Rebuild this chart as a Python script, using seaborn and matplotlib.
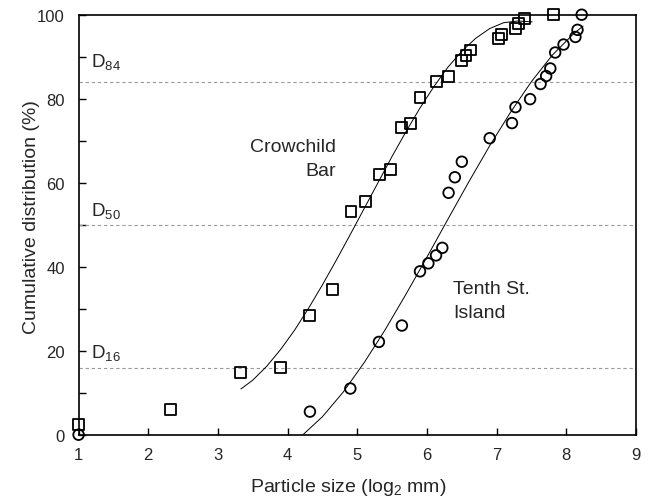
import numpy as np
import pandas as pd
import matplotlib
matplotlib.use("Agg")
import matplotlib.pyplot as plt
import seaborn as sns

# Crowchild Bar (squares)
crow_x = [1.0, 2.32, 3.32, 3.90, 4.32, 4.64, 4.91, 5.12, 5.32, 5.48, 5.64, 5.77,
          5.90, 6.13, 6.31, 6.49, 6.56, 6.63, 7.02, 7.07, 7.27, 7.31, 7.40, 7.81]
crow_y = [2.4, 6.1, 14.9, 16.0, 28.3, 34.6, 53.2, 55.6, 61.9, 63.1, 73.1, 74.2,
          80.4, 84.2, 85.3, 89.1, 90.4, 91.6, 94.3, 95.4, 96.7, 97.8, 99.2, 100.0]

# Tenth St. Island (circles)
tenth_x = [1.0, 4.32, 4.90, 5.31, 5.64, 5.90, 6.02, 6.13, 6.22, 6.31, 6.40, 6.50,
           6.90, 7.22, 7.27, 7.48, 7.63, 7.71, 7.77, 7.84, 7.96, 8.13, 8.16, 8.22]
tenth_y = [0.0, 5.5, 11.0, 22.1, 26.0, 38.9, 40.8, 42.7, 44.5, 57.6, 61.3, 65.0,
           70.6, 74.2, 78.0, 79.9, 83.5, 85.4, 87.2, 91.0, 92.9, 94.7, 96.4, 100.0]

# Fitted trend curves
crow_fit_x = [3.33, 3.5, 3.7, 3.9, 4.1, 4.3, 4.5, 4.7, 4.9, 5.1, 5.3, 5.5,
              5.7, 5.9, 6.1, 6.3, 6.5, 6.7, 6.9, 7.1, 7.3, 7.51]
crow_fit_y = [10.9, 13.0, 16.3, 20.3, 24.9, 30.1, 35.7, 41.6, 47.7, 53.9, 60.1, 66.3,
              72.2, 77.8, 82.9, 87.5, 91.3, 94.4, 96.7, 98.1, 98.5, 98.3]
tenth_fit_x = [4.22, 4.5, 4.8, 5.1, 5.4, 5.7, 6.0, 6.3, 6.6, 6.9, 7.2, 7.5,
               7.8, 8.1, 8.24]
tenth_fit_y = [0.0, 4.3, 10.2, 17.2, 25.0, 33.5, 42.3, 51.3, 60.2, 68.8, 76.8, 84.1,
               90.4, 95.4, 97.3]

ref_levels = [16, 50, 84]
ref_labels = ["D$_{16}$", "D$_{50}$", "D$_{84}$"]

x_ticks = [1, 2, 3, 4, 5, 6, 7, 8, 9]
y_ticks = [0, 20, 40, 60, 80, 100]
y_minor = [10, 30, 50, 70, 90]

sns.set_theme(style="white")
plt.rcParams["font.family"] = ["Liberation Sans", "DejaVu Sans"]
plt.rcParams["mathtext.fontset"] = "custom"
plt.rcParams["mathtext.rm"] = "Liberation Sans"
plt.rcParams["mathtext.it"] = "Liberation Sans"
plt.rcParams["mathtext.default"] = "regular"

fig = plt.figure(figsize=(6.51, 5.02), dpi=100)
ax = fig.add_axes([0.1207, 0.132, 0.977 - 0.1207, 0.9687 - 0.132])

for lev in ref_levels:
    ax.axhline(lev, color="#999999", lw=0.8, ls=(0, (3, 2.5)), zorder=1)

crow_fit = pd.DataFrame({"x": crow_fit_x, "y": crow_fit_y})
tenth_fit = pd.DataFrame({"x": tenth_fit_x, "y": tenth_fit_y})
sns.lineplot(data=crow_fit, x="x", y="y", ax=ax, color="black", lw=0.7,
             sort=False, estimator=None, zorder=2)
sns.lineplot(data=tenth_fit, x="x", y="y", ax=ax, color="black", lw=0.7,
             sort=False, estimator=None, zorder=2)

crow = pd.DataFrame({"x": crow_x, "y": crow_y})
tenth = pd.DataFrame({"x": tenth_x, "y": tenth_y})
sns.scatterplot(data=crow, x="x", y="y", ax=ax, marker="s", s=62,
                facecolor="none", edgecolor="black", linewidth=1.3,
                clip_on=False, zorder=3)
sns.scatterplot(data=tenth, x="x", y="y", ax=ax, marker="o", s=58,
                facecolor="none", edgecolor="black", linewidth=1.3,
                clip_on=False, zorder=3)
for coll in ax.collections:
    coll.set_facecolor("none")
    coll.set_edgecolor("black")

ax.set_xlim(1, 9)
ax.set_ylim(0, 100)
ax.set_xticks(x_ticks)
ax.set_yticks(y_ticks)
ax.set_yticks(y_minor, minor=True)
ax.tick_params(axis="both", which="both", direction="in", length=5, width=1,
               color="black", labelsize=12, left=True, bottom=True)
ax.tick_params(axis="x", which="major", pad=8.5)
ax.tick_params(axis="y", which="major", pad=10)
for sp in ax.spines.values():
    sp.set_color("black")
    sp.set_linewidth(1.2)
    sp.set_visible(True)

ax.set_xlabel("Particle size (log$_2$ mm)", fontsize=14, labelpad=10.5)
ax.set_ylabel("Cumulative distribution (%)", fontsize=14, labelpad=-2)
ax.xaxis.label.set_x(0.484)
ax.yaxis.label.set_y(0.52)

label_y = [18.4, 52.2, 87.9]
for ly, lt in zip(label_y, ref_labels):
    ax.text(1.18, ly, lt, fontsize=13.5, ha="left", va="baseline")

ax.text(4.70, 67.6, "Crowchild", fontsize=14, ha="right", va="baseline")
ax.text(4.70, 61.9, "Bar", fontsize=14, ha="right", va="baseline")
ax.text(6.375, 33.7, "Tenth St.", fontsize=14, ha="left", va="baseline")
ax.text(6.375, 28.1, "Island", fontsize=14, ha="left", va="baseline")

fig.savefig("out.png", dpi=100)
